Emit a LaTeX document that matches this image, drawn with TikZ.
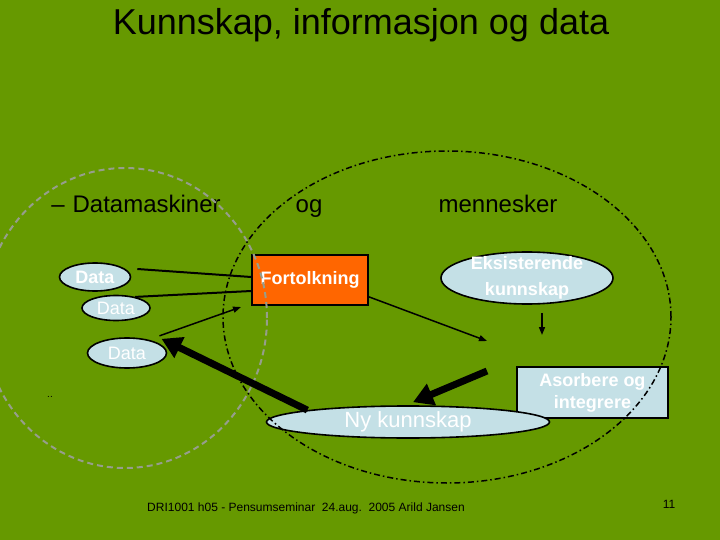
\documentclass[tikz,border=0pt]{standalone}
\usepackage{fontspec}
\setmainfont{Liberation Sans}
\usetikzlibrary{arrows.meta,shapes.geometric}
\definecolor{slidegreen}{RGB}{102,153,0}
\definecolor{databg}{RGB}{196,224,230}
\definecolor{fortbg}{RGB}{255,102,0}
\definecolor{ringgray}{RGB}{150,158,140}
\newcommand\HeadSize{\fontsize{24}{28}\selectfont}
\newcommand\LabelSize{\fontsize{18}{22}\selectfont}
\tikzset{
  dataell/.style={
    shape = ellipse,
    draw,
    line width = 1.6pt,
    fill = databg,
    text = white,
    inner sep = 0pt,
    font = \LabelSize
  },
  boxnode/.style={
    shape = rectangle,
    draw,
    line width = 1.6pt,
    text = white,
    inner sep = 0pt,
    align = center,
    font = \LabelSize\bfseries
  },
  comic/.style={
    anchor = base,
    font = \HeadSize
  },
  thin/.style={
    line width = 1.5pt,
    -{Triangle[length=8pt,width=6pt]}
  },
  fat/.style={
    line width = 7pt,
    -{Triangle[length=20pt,width=22pt]}
  },
  ring/.style={
    color = ringgray,
    line width = 2pt,
    dash pattern = on 6pt off 4pt
  },
  dashdotring/.style={
    line width = 1.5pt,
    dash pattern = on 6pt off 3pt on 1.5pt off 3pt
  }
}

\begin{document}
\begin{tikzpicture}[x=1pt,y=-1pt]
    \path[use as bounding box, fill=slidegreen] (0,0) rectangle (720,540);

    \node[comic, font=\fontsize{36}{40}\selectfont] (title) at (361,35) {Kunnskap, informasjon og data};
    \node[comic] (maskin) at (136,212) {--\,\,Datamaskiner};
    \node[comic] (og) at (309,212) {og};
    \node[comic] (menn) at (498,212) {mennesker};

    \node[dataell, minimum width=71pt, minimum height=28pt, font=\LabelSize\bfseries] (d1) at (95,277) {Data};
    \node[dataell, minimum width=68pt, minimum height=25pt] (d2) at (116,308) {Data};
    \node[dataell, minimum width=79pt, minimum height=30pt] (d3) at (127,353) {Data};
    \node[font=\fontsize{10}{12}\selectfont] (dots) at (50,397) {..};

    \node[boxnode, fill=fortbg, minimum width=116pt, minimum height=50pt] (fort) at (310,280) {Fortolkning};
    \node[dataell, minimum width=172pt, minimum height=52pt,
      label={[text=white, align=center, font=\fontsize{18}{26}\selectfont\bfseries]center:Eksisterende\\kunnskap}] (eks) at (527,278) {};
    \node[boxnode, fill=databg, minimum width=151pt, minimum height=51pt] (asorb) at (592.5,392.5) {Asorbere og\\integrere};
    \node[dataell, minimum width=283pt, minimum height=32pt, font=\fontsize{22}{26}\selectfont] (ny) at (408,422) {Ny kunnskap};

    % the two circles
    \draw[ring] (125,318) ellipse [x radius=142pt, y radius=150pt];
    \draw[dashdotring] (447,317) ellipse [x radius=224pt, y radius=166pt];

    \coordinate (fortin) at (241,307);
    \coordinate (mid) at (487,341);
    \coordinate (eksout) at (542,335);
    \coordinate (asorbout) at (487,371);

    \draw[line width=2pt] ([xshift=6pt,yshift=8pt]d1.east) -- ([yshift=3pt]fort.west);
    \draw[line width=2pt] (d2.30) -- ([yshift=-11pt]fort.west);
    \draw[thin] ([shift={(4pt,6pt)}]d3.north east) -- (fortin);
    \draw[fat] (ny.north west) -- ([xshift=6pt,yshift=3pt]d3.north east);
    \draw[thin] ([yshift=9pt]fort.south east) -- (mid);
    \draw[thin] ([xshift=15pt,yshift=-8pt]eks.south) -- (eksout);
    \draw[fat] (asorbout) -- ([xshift=5pt,yshift=3pt]ny.north);

    \node[font=\fontsize{12}{14}\selectfont] (foot) at (306,508) {DRI1001 h05 - Pensumseminar\ \ 24.aug.\ \ 2005 Arild Jansen};
    \node[font=\fontsize{12}{14}\selectfont] (page) at (669,504) {11};
\end{tikzpicture}
\end{document}
